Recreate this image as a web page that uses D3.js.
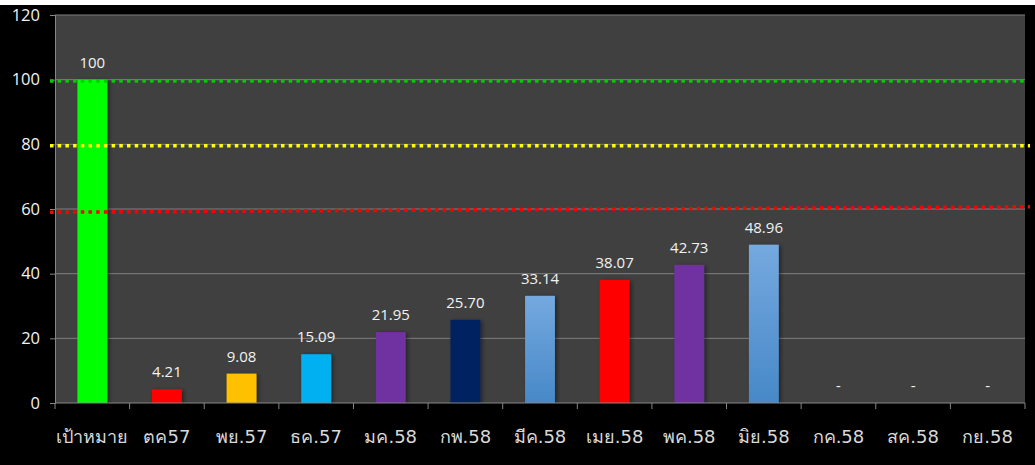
<!DOCTYPE html>
<html lang="th">
    <head>
        <meta charset="utf-8">
        <title>เป้าหมาย</title>
        <script src="https://d3js.org/d3.v7.min.js" charset="utf-8"></script>
        <style>
            body { margin: 0; background: #000; }
            text { font-family: "Open Sans", Tahoma, "DejaVu Sans", sans-serif; }
            text.xl { font-family: Tahoma, "DejaVu Sans", "Noto Sans", sans-serif; }
        </style>
    </head>
    <body>
        <script type="text/javascript">

            // size of the page and the plot box
            var w = 1035;
            var h = 465;
            var margin = {top: 15, right: 10, bottom: 62, left: 55};

            // data
            var months = ["เป้าหมาย", "ตค57", "พย.57", "ธค.57", "มค.58", "กพ.58", "มีค.58",
                          "เมย.58", "พค.58", "มิย.58", "กค.58", "สค.58", "กย.58"];
            var values = [100, 4.21, 9.08, 15.09, 21.95, 25.70, 33.14, 38.07, 42.73, 48.96, 0, 0, 0];
            var valueLabels = ["100", "4.21", "9.08", "15.09", "21.95", "25.70", "33.14",
                               "38.07", "42.73", "48.96", "-", "-", "-"];
            var barColors = ["#00ff00", "#ff0000", "#ffc000", "#00b0f0", "#7030a0", "#002060",
                             "url(#blueGrad)", "#ff0000", "#7030a0", "url(#blueGrad)",
                             "#4f81bd", "#4f81bd", "#4f81bd"];
            var yTicks = [0, 20, 40, 60, 80, 100, 120];

            // dotted reference lines: value at left end, value at right end
            var refNames = ["target", "good", "low"];
            var refStart = [99.6, 79.6, 59.0];
            var refEnd = [99.6, 79.6, 60.7];
            var refColors = ["#00cc00", "#ffff00", "#ff0000"];
            var refOverhang = [0, 5, 5];

            var iw = w - margin.left - margin.right;
            var ih = h - margin.top - margin.bottom;

            var x = d3.scaleBand()
                .domain(months)
                .range([0, iw])
                .paddingInner(0.6)
                .paddingOuter(0.3);

            var y = d3.scaleLinear()
                .domain([0, 120])
                .range([ih, 0]);

            var svg = d3.select("body")
                .append("svg")
                .attr("width", w)
                .attr("height", h);

            // thin white strip at the very top
            svg.append("rect")
                .attr("width", w)
                .attr("height", 5)
                .attr("fill", "#fff");

            var defs = svg.append("defs");
            var grad = defs.append("linearGradient")
                .attr("id", "blueGrad")
                .attr("x1", 0).attr("y1", 0).attr("x2", 0).attr("y2", 1);
            grad.append("stop").attr("offset", "0%").attr("stop-color", "#75a9df");
            grad.append("stop").attr("offset", "100%").attr("stop-color", "#4788c8");

            var shadow = defs.append("filter")
                .attr("id", "shadow")
                .attr("x", "-20%").attr("y", "-20%")
                .attr("width", "160%").attr("height", "140%");
            shadow.append("feDropShadow")
                .attr("dx", 2).attr("dy", 1)
                .attr("stdDeviation", 2)
                .attr("flood-color", "#000")
                .attr("flood-opacity", 0.45);

            var g = svg.append("g")
                .attr("transform", "translate(" + margin.left + "," + margin.top + ")");

            // plot background
            g.append("rect")
                .attr("width", iw)
                .attr("height", ih)
                .attr("fill", "#404040");

            // gridlines
            g.selectAll(".grid")
                .data(yTicks.slice(1))
                .enter()
                .append("line")
                .attr("class", "grid")
                .attr("x1", 0)
                .attr("x2", iw)
                .attr("y1", function(d) { return y(d); })
                .attr("y2", function(d) { return y(d); })
                .attr("stroke", "#7f7f7f")
                .attr("stroke-width", 1);

            // y axis
            var yAxis = g.append("g")
                .call(d3.axisLeft(y).tickValues(yTicks).tickSize(5).tickPadding(10));
            yAxis.select(".domain").attr("stroke", "#868686");
            yAxis.selectAll(".tick line").attr("stroke", "#868686");
            yAxis.selectAll("text")
                .attr("fill", "#f2f2f2")
                .style("font-family", "'Open Sans', sans-serif")
                .style("font-size", "16.5px");

            // bars
            g.selectAll(".bar")
                .data(values)
                .enter()
                .append("rect")
                .attr("class", "bar")
                .attr("x", function(d, i) { return x(months[i]); })
                .attr("y", function(d) { return y(d); })
                .attr("width", x.bandwidth())
                .attr("height", function(d) { return ih - y(d); })
                .attr("fill", function(d, i) { return barColors[i]; })
                .attr("filter", "url(#shadow)");

            // value labels
            g.selectAll(".val")
                .data(values)
                .enter()
                .append("text")
                .attr("class", "val")
                .attr("x", function(d, i) { return x(months[i]) + x.bandwidth() / 2; })
                .attr("y", function(d) { return y(d) - 12; })
                .attr("text-anchor", "middle")
                .attr("fill", "#f2f2f2")
                .style("font-size", "15px")
                .text(function(d, i) { return valueLabels[i]; });

            // x axis, tick marks on band edges
            var xAxis = g.append("g")
                .attr("transform", "translate(0," + ih + ")");
            xAxis.append("line")
                .attr("x1", 0).attr("x2", iw)
                .attr("stroke", "#868686");
            xAxis.selectAll(".xt")
                .data(d3.range(months.length + 1))
                .enter()
                .append("line")
                .attr("class", "xt")
                .attr("x1", function(d) { return d * x.step(); })
                .attr("x2", function(d) { return d * x.step(); })
                .attr("y1", 0)
                .attr("y2", 6)
                .attr("stroke", "#868686");
            xAxis.selectAll(".xl")
                .data(months)
                .enter()
                .append("text")
                .attr("class", "xl")
                .attr("x", function(d) { return x(d) + x.bandwidth() / 2; })
                .attr("y", 40)
                .attr("text-anchor", "middle")
                .attr("fill", "#d9d9d9")
                .style("font-size", "18px")
                .text(function(d) { return d; });

            // dotted reference lines on top
            g.selectAll(".ref")
                .data(refNames)
                .enter()
                .append("line")
                .attr("class", "ref")
                .attr("x1", -5)
                .attr("x2", function(d, i) { return iw + refOverhang[i]; })
                .attr("y1", function(d, i) { return y(refStart[i]); })
                .attr("y2", function(d, i) { return y(refEnd[i]); })
                .attr("stroke", function(d, i) { return refColors[i]; })
                .attr("stroke-width", 3.5)
                .attr("stroke-dasharray", "3.5,4.2");

        </script>
    </body>
</html>
